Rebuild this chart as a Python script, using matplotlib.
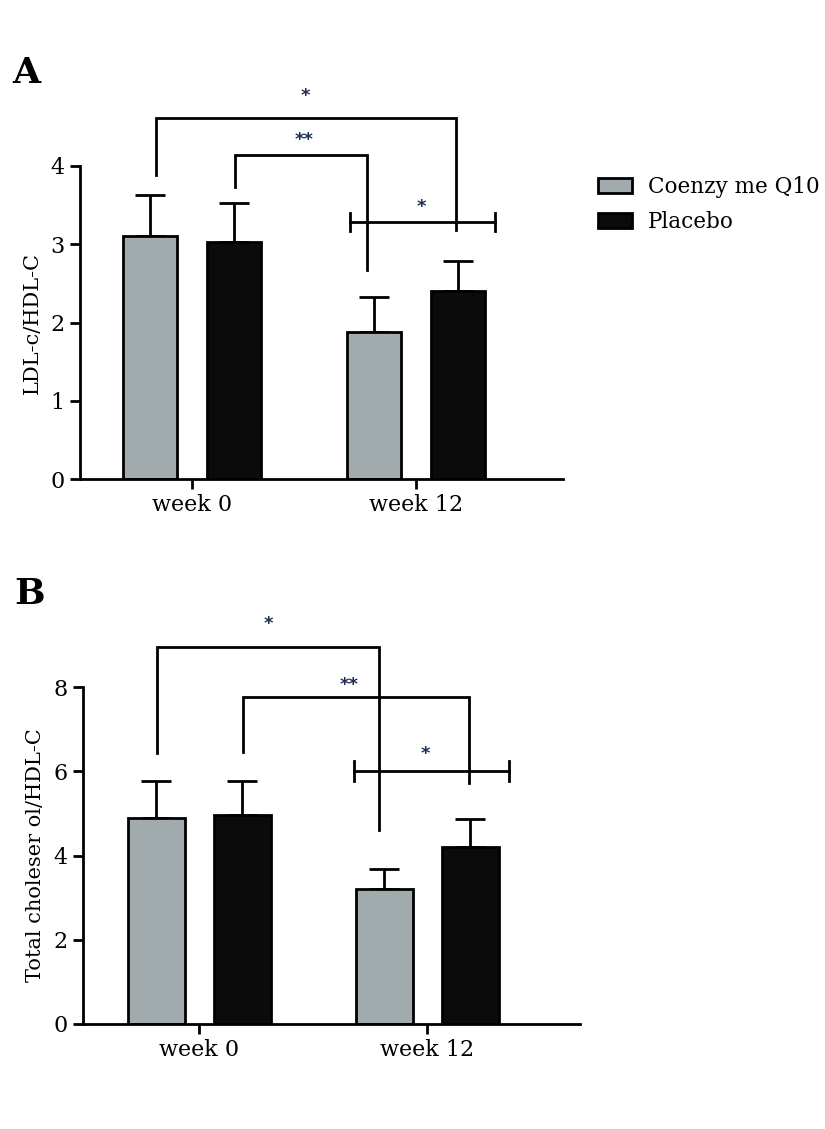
import matplotlib
matplotlib.use("Agg")
import matplotlib.pyplot as plt
import numpy as np

# ---- data ----
groups = ["week 0", "week 12"]
series = ["Coenzy me Q10", "Placebo"]

a_q10 = [3.10, 1.88]
a_q10_err = [0.53, 0.44]
a_pla = [3.03, 2.40]
a_pla_err = [0.50, 0.39]
a_yticks = [0, 1, 2, 3, 4]
a_ylabel = "LDL-c/HDL-C"

b_q10 = [4.89, 3.20]
b_q10_err = [0.87, 0.49]
b_pla = [4.95, 4.20]
b_pla_err = [0.81, 0.67]
b_yticks = [0, 2, 4, 6, 8]
b_ylabel = "Total choleser ol/HDL-C"

colors = ["#a1abae", "#0b0b0b"]
star_color = "#1f2d55"
serif = "DejaVu Serif"
LW = 2.0

fig = plt.figure(figsize=(8.25, 11.29), dpi=100)


def panel(rect, q10, q10e, pla, plae, yticks, ylabel, xlim, bw, off,
          brackets, hline, stars, capd, labelpad):
    ax = fig.add_axes(rect)
    x = np.arange(len(groups))
    b1 = ax.bar(x - off, q10, bw, color=colors[0], edgecolor="black", linewidth=LW, zorder=2)
    b2 = ax.bar(x + off, pla, bw, color=colors[1], edgecolor="black", linewidth=LW, zorder=2)
    ax.errorbar(x - off, q10, yerr=[np.zeros(len(q10)), q10e], fmt="none",
                ecolor="black", elinewidth=LW, capsize=11, capthick=LW, zorder=1)
    ax.errorbar(x + off, pla, yerr=[np.zeros(len(pla)), plae], fmt="none",
                ecolor="black", elinewidth=LW, capsize=11, capthick=LW, zorder=1)
    ax.set_xlim(*xlim)
    ax.set_ylim(yticks[0], yticks[-1])
    ax.set_yticks(yticks)
    ax.set_xticks(x)
    ax.set_xticklabels(groups, fontsize=16, family=serif)
    for t in ax.get_yticklabels():
        t.set_fontsize(16)
        t.set_family(serif)
    ax.set_ylabel(ylabel, fontsize=15, family=serif, labelpad=labelpad)
    for s in ["top", "right"]:
        ax.spines[s].set_visible(False)
    for s in ["left", "bottom"]:
        ax.spines[s].set_linewidth(LW)
    ax.tick_params(axis="both", width=LW, length=7, pad=4)
    # brackets
    for (x0, x1, y, yl0, yl1) in brackets:
        ax.plot([x0, x0, x1, x1], [yl0, y, y, yl1], color="black", lw=LW,
                clip_on=False, solid_joinstyle="miter", zorder=3)
    hx0, hx1, hy = hline
    ax.plot([hx0, hx1], [hy, hy], color="black", lw=LW, clip_on=False, zorder=3)
    for hx in (hx0, hx1):
        ax.plot([hx, hx], [hy - capd, hy + capd], color="black", lw=LW, clip_on=False, zorder=3)
    for (sx, sy, s) in stars:
        ax.text(sx, sy, s, ha="center", va="center", fontsize=13, color=star_color,
                fontweight="bold", clip_on=False)
    return ax, b1, b2


axA, bA1, bA2 = panel(
    [80 / 825, 1 - 479 / 1129, 483 / 825, 313 / 1129],
    a_q10, a_q10_err, a_pla, a_pla_err, a_yticks, a_ylabel,
    (-0.5, 1.656), 0.24, 0.1875,
    [(-0.16, 1.18, 4.61, 3.88, 3.18), (0.19, 0.78, 4.14, 3.73, 2.67)],
    (0.705, 1.353, 3.29),
    [(0.507, 4.90, "*"), (0.50, 4.33, "**"), (1.025, 3.48, "*")],
    0.115, 6,
)

axB, bB1, bB2 = panel(
    [83 / 825, 1 - 1024 / 1129, 497 / 825, 337 / 1129],
    b_q10, b_q10_err, b_pla, b_pla_err, b_yticks, b_ylabel,
    (-0.51, 1.67), 0.25, 0.188,
    [(-0.1875, 0.79, 8.94, 6.43, 4.61), (0.19, 1.183, 7.76, 6.45, 5.72)],
    (0.678, 1.357, 6.0),
    [(0.304, 9.50, "*"), (0.659, 8.05, "**"), (0.993, 6.40, "*")],
    0.24, 6,
)

fig.legend([bA1, bA2], series, loc="upper left",
           bbox_to_anchor=(598 / 825, 1 - 176 / 1129), frameon=False,
           prop={"family": serif, "size": 15.5}, handlelength=1.6, handleheight=0.7,
           handletextpad=0.7, labelspacing=0.6, borderaxespad=0, borderpad=0)

fig.text(12 / 825, 1 - 83 / 1129, "A", fontsize=26, fontweight="bold", family=serif,
         ha="left", va="baseline")
fig.text(14 / 825, 1 - 604 / 1129, "B", fontsize=26, fontweight="bold", family=serif,
         ha="left", va="baseline")

fig.savefig("out.png", dpi=100)
